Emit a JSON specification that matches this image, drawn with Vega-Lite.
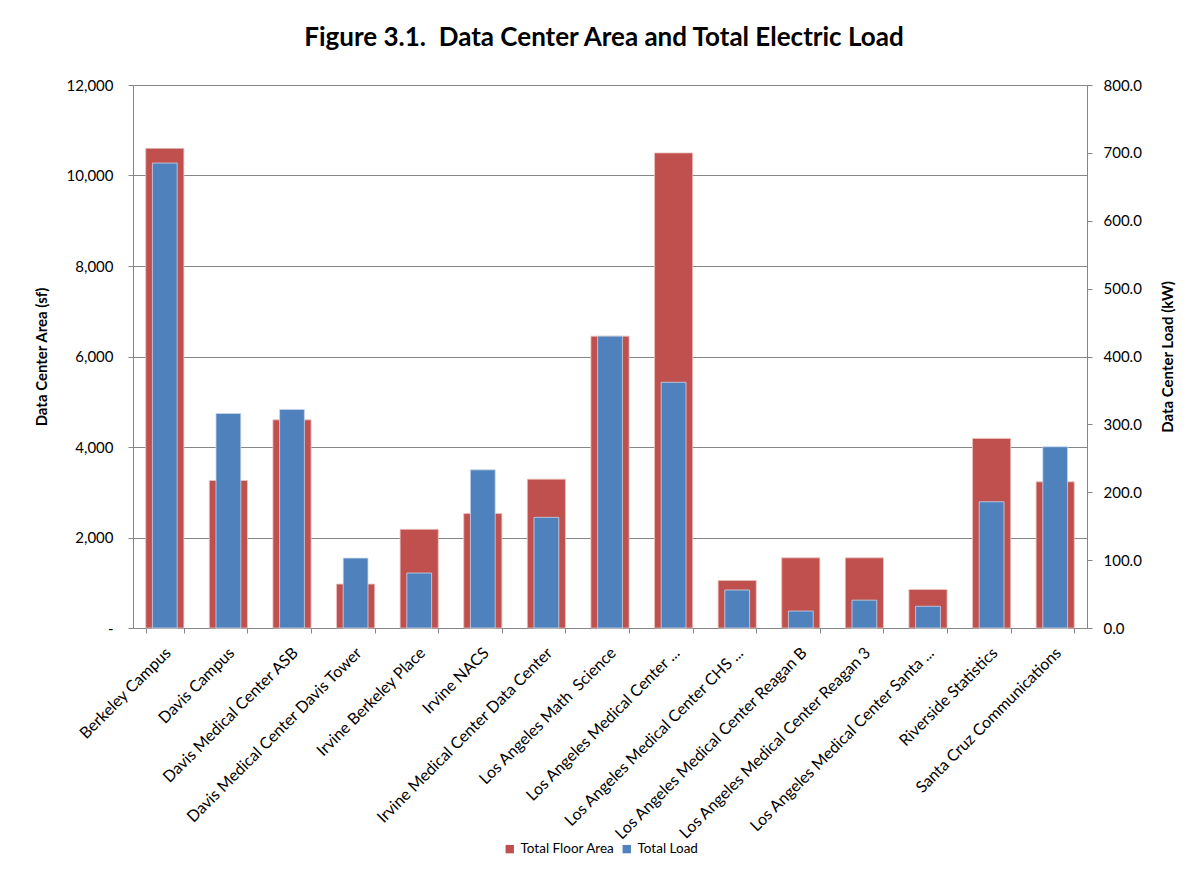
{
  "$schema": "https://vega.github.io/schema/vega-lite/v6.json",
  "width": 954,
  "height": 543,
  "autosize": "none",
  "padding": {"left": 133, "top": 85, "right": 112, "bottom": 245},
  "background": "white",
  "title": {
    "text": "Figure 3.1.\u00a0 Data Center Area and Total Electric Load",
    "font": "Lato",
    "fontSize": 26,
    "fontWeight": "bold",
    "color": "#000000",
    "anchor": "middle",
    "offset": 27,
    "dx": -6
  },
  "data": {
    "values": [
      {"site": "Berkeley Campus", "area_sf": 10600, "load_kw": 685},
      {"site": "Davis Campus", "area_sf": 3260, "load_kw": 316},
      {"site": "Davis Medical Center ASB", "area_sf": 4600, "load_kw": 322},
      {"site": "Davis Medical Center Davis Tower", "area_sf": 970, "load_kw": 103},
      {"site": "Irvine Berkeley Place", "area_sf": 2180, "load_kw": 81},
      {"site": "Irvine NACS", "area_sf": 2530, "load_kw": 233},
      {"site": "Irvine Medical Center Data Center", "area_sf": 3290, "load_kw": 163},
      {"site": "Los Angeles Math\u00a0 Science", "area_sf": 6450, "load_kw": 430},
      {"site": "Los Angeles Medical Center ...", "area_sf": 10500, "load_kw": 362},
      {"site": "Los Angeles Medical Center CHS ...", "area_sf": 1050, "load_kw": 56},
      {"site": "Los Angeles Medical Center Reagan B", "area_sf": 1550, "load_kw": 25},
      {"site": "Los Angeles Medical Center Reagan 3", "area_sf": 1550, "load_kw": 41},
      {"site": "Los Angeles Medical Center Santa ...", "area_sf": 850, "load_kw": 32},
      {"site": "Riverside Statistics", "area_sf": 4190, "load_kw": 186},
      {"site": "Santa Cruz Communications", "area_sf": 3230, "load_kw": 267}
    ]
  },
  "encoding": {
    "x": {
      "field": "site",
      "type": "nominal",
      "sort": null,
      "title": null,
      "scale": {"paddingInner": 0.4, "paddingOuter": 0.2},
      "axis": {
        "labelAngle": -45,
        "labelAlign": "right",
        "labelBaseline": "middle",
        "labelPadding": 17,
        "labelOffset": 3,
        "labelFontSize": 16,
        "tickBand": "extent",
        "tickSize": 5,
        "labelLimit": 400
      }
    }
  },
  "layer": [
    {
      "mark": {"type": "bar", "stroke": "#e8c4c3", "strokeWidth": 0.8},
      "encoding": {
        "y": {
          "field": "area_sf",
          "type": "quantitative",
          "title": "Data Center Area (sf)",
          "scale": {"domain": [0, 12000], "nice": false},
          "axis": {
            "orient": "left",
            "values": [0, 2000, 4000, 6000, 8000, 10000, 12000],
            "labelExpr": "datum.value == 0 ? '-' : format(datum.value, ',')",
            "grid": true,
            "labelPadding": 15,
            "titlePadding": 17
          }
        },
        "color": {
          "datum": "Total Floor Area",
          "scale": {"domain": ["Total Floor Area", "Total Load"], "range": ["#C0504D", "#4F81BD"]},
          "legend": {
            "title": null,
            "orient": "none",
            "direction": "horizontal",
            "legendX": 370,
            "legendY": 757,
            "symbolType": "square",
            "symbolSize": 70,
            "symbolStrokeWidth": 0,
            "labelFont": "Lato",
            "labelFontSize": 13.5,
            "labelColor": "#000000",
            "columnPadding": 5,
            "labelOffset": 4
          }
        }
      }
    },
    {
      "mark": {"type": "bar", "width": {"band": 0.65}, "stroke": "#c9d7ea", "strokeWidth": 0.8},
      "encoding": {
        "y": {
          "field": "load_kw",
          "type": "quantitative",
          "title": "Data Center Load (kW)",
          "scale": {"domain": [0, 800], "nice": false},
          "axis": {
            "orient": "right",
            "values": [0, 100, 200, 300, 400, 500, 600, 700, 800],
            "format": ".1f",
            "grid": false,
            "labelPadding": 11,
            "titlePadding": 34,
            "titleAngle": 270
          }
        },
        "color": {"datum": "Total Load"}
      }
    }
  ],
  "resolve": {"scale": {"y": "independent"}},
  "config": {
    "view": {"stroke": null},
    "axis": {
      "domainColor": "#868686",
      "tickColor": "#868686",
      "gridColor": "#868686",
      "gridOpacity": 1,
      "domainWidth": 1,
      "labelFont": "Lato",
      "labelFontSize": 15,
      "labelColor": "#000000",
      "titleFont": "Lato",
      "titleFontSize": 15,
      "titleFontWeight": "bold",
      "titleColor": "#000000",
      "tickSize": 5
    }
  }
}
